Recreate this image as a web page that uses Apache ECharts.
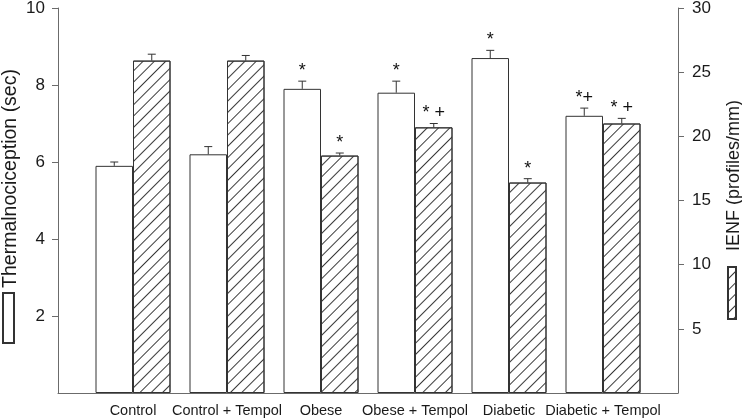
<!DOCTYPE html>
<html>
<head>
<meta charset="utf-8">
<script src="https://cdn.jsdelivr.net/npm/echarts@6/dist/echarts.min.js"></script>
<style>
  html, body { margin: 0; padding: 0; background: #fff; }
  #chart { width: 742px; height: 418px; }
</style>
</head>
<body>
<div id="chart"></div>
<script>
var chartDom = document.getElementById('chart');
var myChart = echarts.init(chartDom);
var option;

// values
const categories = ['Control', 'Control + Tempol', 'Obese', 'Obese + Tempol', 'Diabetic', 'Diabetic + Tempol'];
const thermal = [5.9, 6.2, 7.9, 7.8, 8.7, 7.2];
const thermalErr = [0.1, 0.2, 0.2, 0.3, 0.2, 0.2];
const thermalMarks = ['', '', '*', '*', '*', '*+'];
const ienf = [25.9, 25.9, 18.5, 20.7, 16.4, 21.0];
const ienfErr = [0.5, 0.4, 0.2, 0.3, 0.3, 0.4];
const ienfMarks = ['', '', '*', '* +', '*', '* +'];
const leftTicks = [2, 4, 6, 8, 10];
const rightTicks = [5, 10, 15, 20, 25, 30];

const FONT = 'Liberation Sans, Arial, sans-serif';
const AXIS = '#6b6b6b';
const EDGE = '#333';
const BAR_W = 37.5;

const hatch = {
  symbol: 'rect',
  symbolSize: 1,
  dashArrayX: [1, 0],
  dashArrayY: [0.9, 6.4],
  rotation: -Math.PI / 4,
  color: '#3a3a3a'
};

function errorSeries(vals, errs, marks, yIdx, side) {
  return {
    type: 'custom',
    xAxisIndex: 1,
    yAxisIndex: yIdx,
    silent: true,
    z: 5,
    data: vals.map((v, i) => [i, v, errs[i]]),
    renderItem: function (params, api) {
      const i = api.value(0);
      const v = api.value(1);
      const e = api.value(2);
      const mark = marks[i];
      const base = api.coord([i, v]);
      const top = api.coord([i, v + e]);
      const x = base[0] + side * BAR_W / 2;
      const children = [
        { type: 'line', shape: { x1: x, y1: base[1], x2: x, y2: top[1] }, style: { stroke: EDGE, lineWidth: 1 } },
        { type: 'line', shape: { x1: x - 4, y1: top[1], x2: x + 4, y2: top[1] }, style: { stroke: EDGE, lineWidth: 1 } }
      ];
      if (mark) {
        children.push({
          type: 'text',
          style: {
            text: mark, x: x, y: top[1] - 1,
            align: 'center', verticalAlign: 'bottom',
            font: '18px ' + FONT, fill: '#111'
          }
        });
      }
      return { type: 'group', children: children };
    }
  };
}

option = {
  animation: false,
  backgroundColor: '#fff',
  textStyle: { fontFamily: FONT },
  legend: [
    {
      data: ['Thermalnociception (sec)'],
      left: 2, top: 292, padding: 0,
      orient: 'vertical', icon: 'rect',
      itemWidth: 11, itemHeight: 50,
      selectedMode: false,
      formatter: () => ''
    },
    {
      data: ['IENF (profiles/mm)'],
      left: 727, top: 266, padding: 0,
      orient: 'vertical', icon: 'rect',
      itemWidth: 8, itemHeight: 52,
      selectedMode: false,
      formatter: () => ''
    }
  ],
  grid: [
    { left: 58, right: 64, top: 8, bottom: 25, outerBoundsMode: 'none', containLabel: false },
    { left: 86, right: 92, top: 8, bottom: 25, outerBoundsMode: 'none', containLabel: false }
  ],
  xAxis: [
    {
      gridIndex: 0, type: 'value', min: 0, max: 1,
      axisLine: { show: true, lineStyle: { color: AXIS, width: 1 } },
      axisTick: { show: false }, axisLabel: { show: false }, splitLine: { show: false }
    },
    {
      gridIndex: 1, type: 'category', data: categories,
      axisLine: { show: false }, axisTick: { show: false },
      axisLabel: { color: '#1a1a1a', fontSize: 14.5, margin: 10, fontFamily: FONT, interval: 0 }
    }
  ],
  yAxis: [
    {
      gridIndex: 0, type: 'value', position: 'left', min: 0, max: 10, interval: 2,
      name: 'Thermalnociception (sec)', nameLocation: 'middle', nameRotate: 90, nameGap: 37,
      nameMoveOverlap: false,
      nameTextStyle: { fontSize: 19.5, color: '#1a1a1a', padding: [0, 0, 0, 44] },
      axisLine: { show: true, lineStyle: { color: AXIS, width: 1 } },
      axisTick: { show: true, length: 6, customValues: leftTicks, lineStyle: { color: AXIS } },
      axisLabel: { customValues: leftTicks, fontSize: 17, color: '#1a1a1a', margin: 13 },
      splitLine: { show: false }
    },
    {
      gridIndex: 0, type: 'value', position: 'right', min: 0, max: 30, interval: 5,
      name: 'IENF (profiles/mm)', nameLocation: 'middle', nameRotate: 90, nameGap: 47,
      nameMoveOverlap: false,
      nameTextStyle: { fontSize: 18, color: '#1a1a1a', padding: [0, 0, 0, 50] },
      axisLine: { show: true, lineStyle: { color: AXIS, width: 1 } },
      axisTick: { show: true, length: 6, customValues: rightTicks, lineStyle: { color: AXIS } },
      axisLabel: { customValues: rightTicks, fontSize: 17, color: '#1a1a1a', margin: 14 },
      splitLine: { show: false }
    },
    { gridIndex: 1, type: 'value', min: 0, max: 10, show: false, splitLine: { show: false } },
    { gridIndex: 1, type: 'value', min: 0, max: 30, show: false, position: 'right', splitLine: { show: false } }
  ],
  series: [
    {
      name: 'Thermalnociception (sec)',
      type: 'bar', xAxisIndex: 1, yAxisIndex: 2,
      barWidth: BAR_W, barGap: '0%',
      itemStyle: { color: '#fff', borderColor: EDGE, borderWidth: 1 },
      data: thermal
    },
    {
      name: 'IENF (profiles/mm)',
      type: 'bar', xAxisIndex: 1, yAxisIndex: 3,
      barWidth: BAR_W, barGap: '0%',
      itemStyle: { color: '#fff', borderColor: EDGE, borderWidth: 1, decal: hatch },
      data: ienf
    },
    errorSeries(thermal, thermalErr, thermalMarks, 2, -1),
    errorSeries(ienf, ienfErr, ienfMarks, 3, 1)
  ]
};

option && myChart.setOption(option);
</script>
</body>
</html>
